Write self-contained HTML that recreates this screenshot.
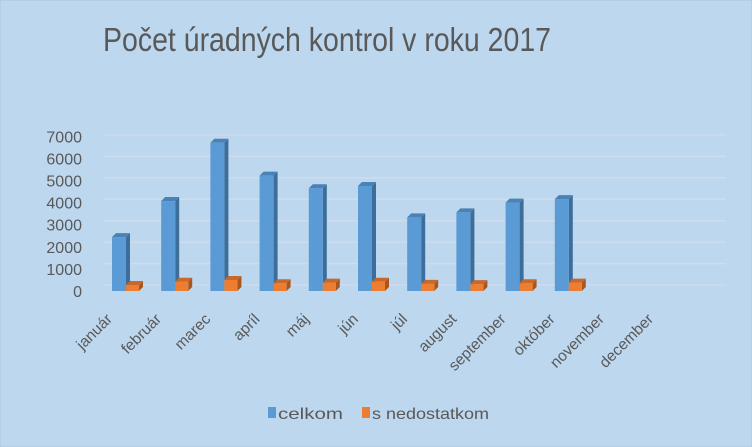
<!DOCTYPE html>
<html><head><meta charset="utf-8"><style>
body{margin:0;background:#bdd7ee;}
svg{display:block;font-family:"Liberation Sans",sans-serif;}
</style></head><body>
<svg width="752" height="447" viewBox="0 0 752 447">
<rect x="0" y="0" width="752" height="447" fill="#bdd7ee" stroke="#a9c4dc"/>
<text x="327" y="51" text-anchor="middle" font-size="33" fill="#595959" textLength="448" lengthAdjust="spacingAndGlyphs">Počet úradných kontrol v roku 2017</text>
<g id="grid"></g>
<g id="yaxis"></g>
<g id="bars"></g>
<g id="xaxis"></g>
<g>
<rect x="268" y="407" width="8" height="11" fill="#5b9bd5"/>
<text x="278" y="419" font-size="16" fill="#595959" textLength="65" lengthAdjust="spacingAndGlyphs">celkom</text>
<rect x="362" y="407" width="8" height="11" fill="#ed7d31"/>
<text x="372" y="419" font-size="16" fill="#595959" textLength="117" lengthAdjust="spacingAndGlyphs">s nedostatkom</text>
</g>
</svg>
<script>
const categories=["január","február","marec","apríl","máj","jún","júl","august","september","október","november","december"];
const celkom=[2440,4070,6710,5220,4650,4750,3330,3560,4000,4160,null,null];
const nedostatkom=[270,420,500,350,380,420,320,310,350,380,null,null];
const yTicks=[0,1000,2000,3000,4000,5000,6000,7000];
const NS="http://www.w3.org/2000/svg";
function el(t,a,p){const e=document.createElementNS(NS,t);for(const k in a)e.setAttribute(k,a[k]);p.appendChild(e);return e;}
const yFront=v=>291-v*0.0221;
const yBack=v=>285-v*0.02143;
const xCat=i=>126+i*49.2;
const grid=document.getElementById('grid'),yaxis=document.getElementById('yaxis'),bars=document.getElementById('bars'),xaxis=document.getElementById('xaxis');
yTicks.forEach(v=>{
 const l=el('line',{x1:104,x2:726,y1:yBack(v),y2:yBack(v),stroke:'#cfdceb','stroke-width':1.5},grid);
 
 
 const t=el('text',{x:82,y:yFront(v)+6,'text-anchor':'end','font-size':16,fill:'#595959'},yaxis);
 t.textContent=v;
 
 
});
function bar(x,w,v,front,side,top,name){
 const g=el('g',{},bars);
 
 
 const y0=291,y1=yFront(v),d=4;
 el('polygon',{points:`${x+w},${y0} ${x+w+d},${y0-d} ${x+w+d},${y1-d} ${x+w},${y1}`,fill:side},g);
 el('polygon',{points:`${x},${y1} ${x+d},${y1-d} ${x+w+d},${y1-d} ${x+w},${y1}`,fill:top},g);
 el('rect',{x:x,y:y1,width:w,height:y0-y1,fill:front},g);
}
categories.forEach((c,i)=>{
 const cx=xCat(i);
 if(celkom[i]!=null) bar(cx-14,14,celkom[i],'#5b9bd5','#3d6e9b','#4a82b5','bar-celkom-'+c);
 if(nedostatkom[i]!=null) bar(cx,13,nedostatkom[i],'#ed7d31','#a8561e','#c9682a','bar-nedostatkom-'+c);
 const lx=cx-13,ly=320;
 const t=el('text',{x:lx,y:ly,'text-anchor':'end','font-size':15.5,fill:'#595959',transform:`rotate(-45 ${lx} ${ly})`},xaxis);
 t.textContent=c;
 
 
});
</script>
</body></html>
